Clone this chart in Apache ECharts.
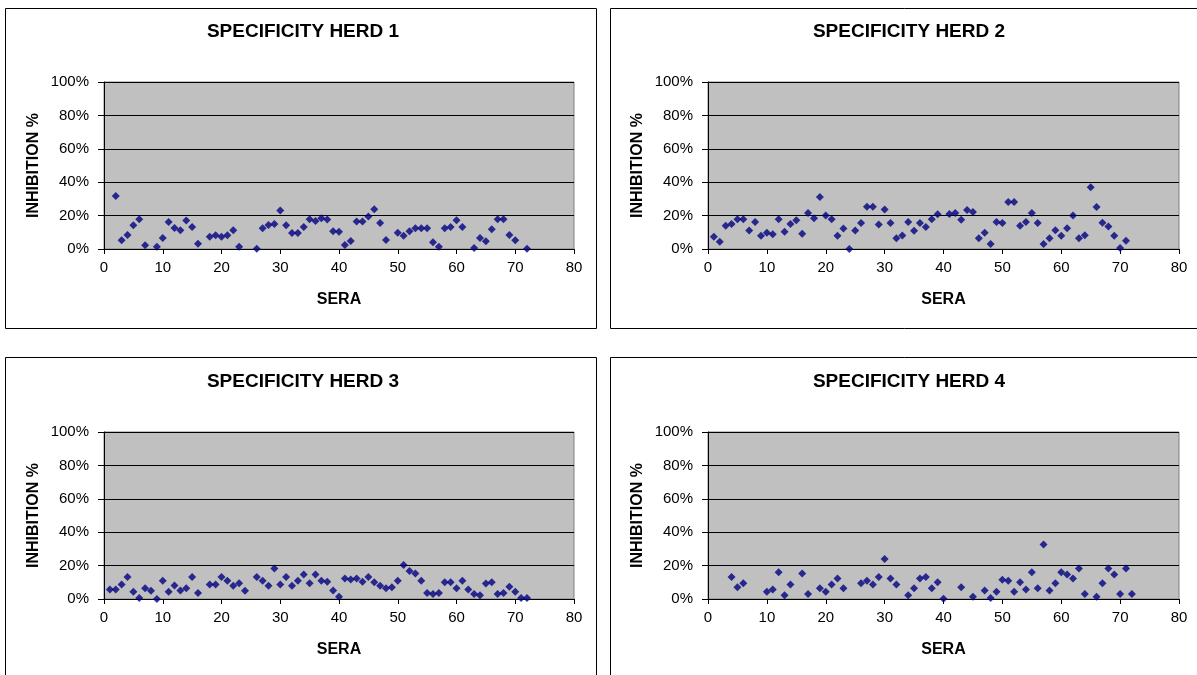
<!DOCTYPE html>
<html>
<head>
<meta charset="utf-8">
<script src="https://cdn.jsdelivr.net/npm/echarts@6/dist/echarts.min.js"></script>
<style>
html,body{margin:0;padding:0;background:#fff;}
#c{width:1197px;height:675px;}
</style>
</head>
<body>
<div id="c"></div>
<script>
// Sera 1..72, inhibition % (null = not plotted)
const herd1 = [null,31.8,5.2,8.4,14.2,17.8,2.2,null,1.4,6.6,16.2,12.6,11.2,17,13.2,3.2,null,7.4,8.2,7.4,8.2,11.2,1.4,null,null,0.2,12.4,14.4,15,23,14.2,9.6,9.6,13.2,17.8,16.8,18.4,17.6,10.6,10.4,2.4,4.8,16.4,16.4,19.4,23.8,15.6,5.4,null,9.8,8,10.6,12.4,12.4,12.4,4,1.4,12.4,13.2,17.2,13.2,null,0.6,6.6,4.6,11.8,17.8,17.8,8.4,5.2,null,0.2];
const herd2 = [7.3,4.4,13.9,14.9,17.8,17.8,11.1,16.2,7.9,9.7,8.9,17.8,10.3,14.9,17.2,9.1,21.6,18.4,31.1,20,17.8,7.9,12.3,0,11.1,15.6,25.3,25.3,14.7,23.6,15.6,6.5,8.1,16.2,10.9,15.6,13.1,17.8,20.8,null,20.9,21.5,17.5,23.3,22.1,6.4,9.7,3,16.1,15.5,28.2,28.2,13.9,16.1,21.5,15.5,3,6.4,11.3,8,12.5,20.1,6.4,8.2,37,25.2,15.7,13.5,8,0.6,5,null];
const herd3 = [5.7,5.7,8.7,13.1,4.4,0.6,6.5,5,0,10.9,4.4,8.1,5.1,6.5,13.1,3.6,null,8.7,8.7,13.1,10.9,7.9,9.5,5,null,13.1,10.9,7.9,18.2,8.7,13.1,7.9,10.9,14.7,9.5,14.7,10.9,10.3,5.1,1.4,12.3,11.7,12.3,10.3,13.1,10.1,7.9,6.5,7.1,10.9,20.4,16.8,15.2,10.9,3.6,3,3.6,10.1,10.1,6.5,10.9,5.7,3,2.2,9.3,10.1,3,3.6,7.3,4.4,0.6,0.6];
const herd4 = [null,null,null,13.1,7.1,9.5,null,null,null,4.4,5.7,16,2.2,8.7,null,15.2,3,null,6.5,4.4,8.7,12.3,6.5,null,null,9.5,10.9,8.7,13.1,24,12.3,8.7,null,2.2,6.5,12.3,13.1,6.5,10.1,0.2,null,null,7.1,null,1.4,null,5.1,0.6,4.4,11.5,10.9,4.4,10.1,5.7,16,6.5,32.7,5.1,9.5,16,14.7,12.3,18.2,3,null,1.4,9.5,18.2,14.7,3,18.2,3];
const titles = ['SPECIFICITY HERD 1','SPECIFICITY HERD 2','SPECIFICITY HERD 3','SPECIFICITY HERD 4'];
const xTicks = [0,10,20,30,40,50,60,70,80];
const yTicks = [0,20,40,60,80,100];
const xName = 'SERA';
const yName = 'INHIBITION %';

const herds = [herd1, herd2, herd3, herd4];
const layout = [
  {gl:104, gt:82, gw:470, gh:167, tx:298, ty:17, box:[5,8,591,320]},
  {gl:708, gt:82, gw:471, gh:167, tx:904, ty:17, box:[610,8,600,320]},
  {gl:104, gt:432, gw:470, gh:167, tx:298, ty:367, box:[5,357,591,330]},
  {gl:708, gt:432, gw:471, gh:167, tx:904, ty:367, box:[610,357,600,330]}
];
const FONT = '"Liberation Sans", Arial, sans-serif';

const option = {
  backgroundColor:'#ffffff',
  animation:false,
  title: layout.map((L,i)=>({
    text: titles[i], left: L.tx, top: L.ty, textAlign:'center',
    textStyle:{fontFamily:FONT, fontSize:19, fontWeight:'bold', color:'#000'}
  })),
  graphic: layout.map(L=>({
    type:'rect', shape:{x:L.box[0]+0.5, y:L.box[1]+0.5, width:L.box[2], height:L.box[3]},
    style:{fill:'none', stroke:'#000', lineWidth:1}, silent:true, z:-1
  })),
  grid: layout.map(L=>({
    left:L.gl, top:L.gt, width:L.gw, height:L.gh, show:true,
    backgroundColor:'#c0c0c0', borderColor:'#808080', borderWidth:1
  })),
  xAxis: layout.map((L,i)=>({
    gridIndex:i, type:'value', min:xTicks[0], max:xTicks[xTicks.length-1], interval:10,
    name:xName, nameLocation:'middle', nameGap:43,
    nameTextStyle:{fontFamily:FONT, fontSize:16, fontWeight:'bold', color:'#000'},
    axisLine:{show:true, onZero:false, lineStyle:{color:'#000', width:1}},
    axisTick:{show:true, inside:false, length:5, lineStyle:{color:'#000'}},
    axisLabel:{fontFamily:FONT, fontSize:15, color:'#000', margin:11},
    splitLine:{show:false}
  })),
  yAxis: layout.map((L,i)=>({
    gridIndex:i, type:'value', min:yTicks[0], max:yTicks[yTicks.length-1], interval:20,
    name:yName, nameLocation:'middle', nameGap:62, nameRotate:90,
    nameTextStyle:{fontFamily:FONT, fontSize:16, fontWeight:'bold', color:'#000'},
    axisLine:{show:true, lineStyle:{color:'#000', width:1}},
    axisTick:{show:true, inside:false, length:6, lineStyle:{color:'#000'}},
    axisLabel:{fontFamily:FONT, fontSize:15, color:'#000', margin:15, formatter:v=>v+'%'},
    splitLine:{show:true, lineStyle:{color:'#000', width:1}}
  })),
  series: herds.map((h,i)=>({
    type:'scatter', xAxisIndex:i, yAxisIndex:i,
    symbol:'diamond', symbolSize:8,
    itemStyle:{color:'#000080'},
    data: h.map((v,k)=> v==null ? null : [k+1, v]).filter(d=>d)
  }))
};
const chart = echarts.init(document.getElementById('c'), null, {renderer:'canvas'});
chart.setOption(option);
</script>
</body>
</html>
